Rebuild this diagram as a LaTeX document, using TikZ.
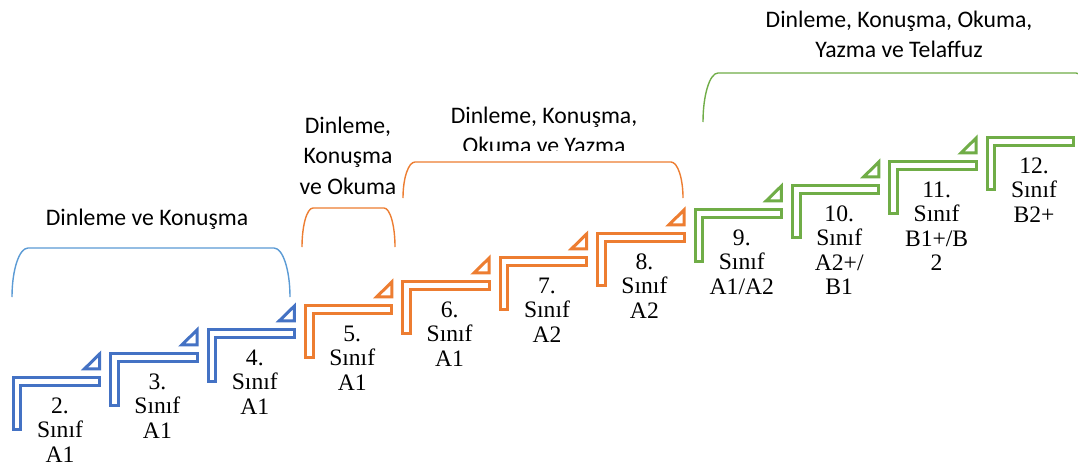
\documentclass[tikz,border=0pt]{standalone}
\usepackage{fontspec}
\setmainfont{Liberation Serif}
\newfontfamily\calib{Carlito}
\definecolor{cblue}{HTML}{4472C4}
\definecolor{corange}{HTML}{ED7D31}
\definecolor{cgreen}{HTML}{70AD47}
\definecolor{clblue}{HTML}{5B9BD5}
\newcommand\toplines[1]{\begin{tabular}[t]{@{}c@{}}#1\end{tabular}}
\tikzset{
  stepline/.style={draw=#1, line width=3pt, fill=white, line join=miter, miter limit=10},
  steptext/.style={font=\fontsize{23.6}{24.5}\selectfont, inner sep=0pt, anchor=base},
  headtext/.style={font=\calib\fontsize{23.7}{30.5}\selectfont, inner sep=0pt, anchor=base},
  bracket/.style={draw=#1, line width=1.4pt},
}
\newcommand\mybrace[6]{%
  \draw[bracket=#1] (#2,#5) .. controls (#2,{#5-0.552*(#5-#4)}) and ({#2+0.448*#6},#4) .. ({#2+#6},#4)
    -- ({#3-#6},#4) .. controls ({#3-0.448*#6},#4) and (#3,{#5-0.552*(#5-#4)}) .. (#3,#5);}
\begin{document}
\begin{tikzpicture}[x=1pt,y=-1pt]
\useasboundingbox (0,0) rectangle (1078,469);
\clip (0,0) rectangle (1078,469);
\fill[white] (0,0) rectangle (1078,469);
% steps
\foreach \i/\c/\lab in {
  0/cblue/{2.\\Sınıf\\A1},
  1/cblue/{3.\\Sınıf\\A1},
  2/cblue/{4.\\Sınıf\\A1},
  3/corange/{5.\\Sınıf\\A1},
  4/corange/{6.\\Sınıf\\A1},
  5/corange/{7.\\Sınıf\\A2},
  6/corange/{8.\\Sınıf\\A2},
  7/cgreen/{9.\\Sınıf\\A1/A2},
  8/cgreen/{10.\\Sınıf\\A2+/\\B1},
  9/cgreen/{11.\\Sınıf\\B1+/B\\2},
  10/cgreen/{12.\\Sınıf\\B2+}} {
  \pgfmathsetmacro\L{12+97.4*\i}
  \pgfmathsetmacro\T{376-24*\i}
  \draw[stepline=\c] (\L+1.3,\T+1.5) -- (\L+87.6,\T+1.5) -- (\L+87.6,\T+9.4) -- (\L+8.9,\T+9.4)
     -- (\L+8.9,\T+53.6) -- (\L+1.3,\T+53.6) -- cycle;
  \ifnum\i<10
    \draw[stepline=\c] (\L+72.5,\T-7.2) -- (\L+87.6,\T-7.2) -- (\L+87.6,\T-22) -- cycle;
  \fi
  \node[steptext] (s\i) at (\L+48,\T+37) {\toplines{\lab}};
}
% brackets
\mybrace{clblue}{12}{290}{248}{297}{16}
\mybrace{corange}{302}{395}{208}{247}{11}
\mybrace{corange}{403}{683}{162}{198}{12}
\mybrace{cgreen}{703}{1091}{73}{122}{15}
% headings
\node[headtext] (h1) at (147,225) {Dinleme ve Konuşma};
\node[headtext] (h2) at (348,133) {\toplines{Dinleme,\\Konuşma\\ve Okuma}};
\begin{scope}
  \clip (380,0) rectangle (700,150.5);
  \node[headtext] (h3) at (544,123) {\toplines{Dinleme, Konuşma,\\Okuma ve Yazma}};
\end{scope}
\node[headtext] (h4) at (899,27) {\toplines{Dinleme, Konuşma, Okuma,\\Yazma ve Telaffuz}};
\end{tikzpicture}
\end{document}
